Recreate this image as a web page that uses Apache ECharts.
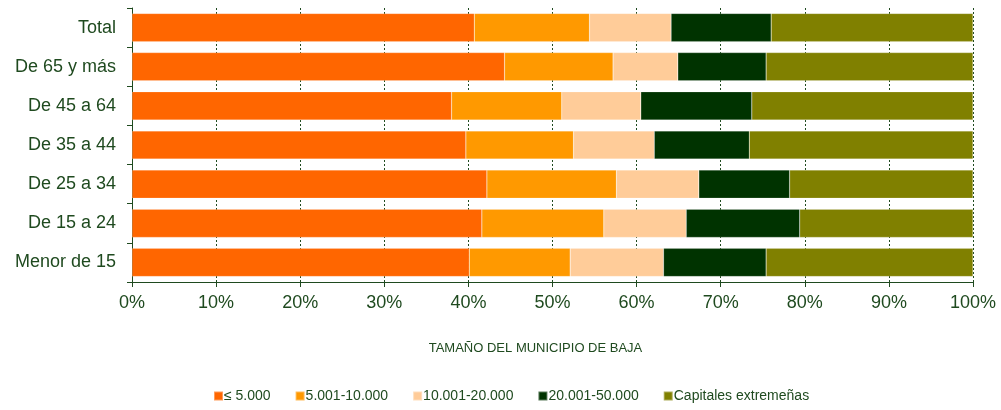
<!DOCTYPE html>
<html>
<head>
<meta charset="utf-8">
<script src="https://cdn.jsdelivr.net/npm/echarts@6/dist/echarts.min.js"></script>
<style>
  html, body { margin: 0; padding: 0; background: #fff; }
  #chart { width: 1001px; height: 410px; }
</style>
</head>
<body>
<div id="chart"></div>
<script>
// categorias (de arriba a abajo)
const categories = ['Total', 'De 65 y más', 'De 45 a 64', 'De 35 a 44', 'De 25 a 34', 'De 15 a 24', 'Menor de 15'];
const seriesNames = ['≤ 5.000', '5.001-10.000', '10.001-20.000', '20.001-50.000', 'Capitales extremeñas'];

// porcentajes por tamaño de municipio
const hasta5000 = [40.7, 44.3, 38.0, 39.7, 42.2, 41.6, 40.1];
const de5a10mil = [13.7, 12.9, 13.1, 12.8, 15.4, 14.5, 12.0];
const de10a20mil = [9.7, 7.7, 9.4, 9.6, 9.8, 9.8, 11.1];
const de20a50mil = [11.9, 10.5, 13.2, 11.3, 10.8, 13.5, 12.2];
const capitales = [24.0, 24.6, 26.3, 26.6, 21.8, 20.6, 24.6];

const colors = ['#FF6600', '#FF9900', '#FFCC99', '#003300', '#808000'];
const textColor = '#1f4a1f';

const chart = echarts.init(document.getElementById('chart'));
const allData = [hasta5000, de5a10mil, de10a20mil, de20a50mil, capitales];

const option = {
    animation: false,
    color: colors,
    grid: { left: 132, right: 28, top: 8, bottom: 128 },
    legend: {
        bottom: 2,
        left: 208,
        itemWidth: 9,
        itemHeight: 9,
        itemGap: 24,
        icon: 'rect',
        textStyle: { color: textColor, fontSize: 14, fontFamily: 'Liberation Sans', padding: [0, 0, 0, -4] },
        data: seriesNames
    },
    xAxis: {
        type: 'value',
        min: 0,
        max: 100,
        interval: 10,
        name: 'TAMAÑO DEL MUNICIPIO DE BAJA',
        nameLocation: 'middle',
        nameGap: 60,
        nameTextStyle: { color: textColor, fontSize: 13, fontFamily: 'Liberation Sans', padding: [0, 34, 0, 0] },
        axisLine: { show: true, lineStyle: { color: '#1f4a1f', width: 1 } },
        axisTick: { show: true, length: 5, lineStyle: { color: '#1f4a1f' } },
        axisLabel: {
            formatter: '{value}%',
            color: textColor,
            fontSize: 18,
            fontFamily: 'Liberation Sans',
            margin: 12
        },
        splitLine: { show: true, lineStyle: { color: '#1f4a1f', type: [2, 2], width: 1 } }
    },
    yAxis: {
        type: 'category',
        inverse: true,
        data: categories,
        axisLine: { show: true, lineStyle: { color: '#1f4a1f', width: 1 } },
        axisTick: { show: true, length: 5, lineStyle: { color: '#1f4a1f' } },
        axisLabel: { color: textColor, fontSize: 18, fontFamily: 'Liberation Sans', margin: 16 }
    },
    series: seriesNames.map((name, i) => ({
        name: name,
        type: 'bar',
        stack: 'total',
        barWidth: '72%',
        data: allData[i],
        itemStyle: { borderColor: 'rgba(255,255,255,0.35)', borderWidth: 0.5 }
    }))
};

chart.setOption(option);
window.addEventListener('resize', chart.resize);
</script>
</body>
</html>
